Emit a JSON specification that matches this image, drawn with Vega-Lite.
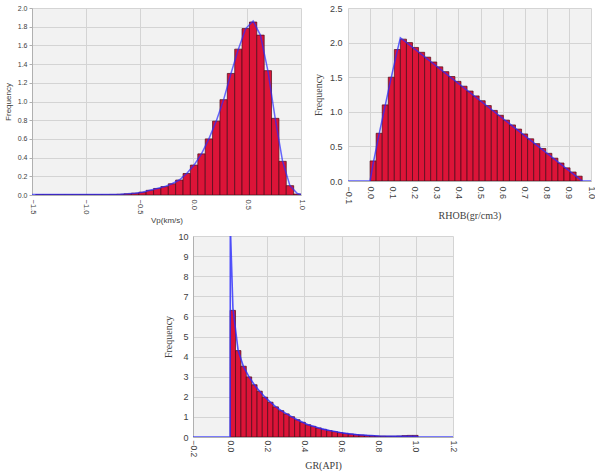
{
  "$schema": "https://vega.github.io/schema/vega-lite/v6.json",
  "padding": {"left": 4, "top": 4, "right": 0, "bottom": 0},
  "background": "white",
  "config": {
    "view": {"stroke": null},
    "axis": {
      "grid": true, "gridColor": "#d4d4d4", "gridWidth": 1,
      "domainColor": "#b0b0b0", "tickColor": "#b0b0b0", "tickSize": 3,
      "labelColor": "#404040", "titleColor": "#404040", "titleFontWeight": "normal",
      "labelFont": "Liberation Sans", "labelOverlap": false, "labelFlush": false
    }
  },
  "datasets": {
    "vpBars": [
      {"x0": -1.466, "x1": -1.398, "f": 0.005},
      {"x0": -1.398, "x1": -1.329, "f": 0.005},
      {"x0": -1.329, "x1": -1.261, "f": 0.005},
      {"x0": -1.261, "x1": -1.192, "f": 0.005},
      {"x0": -1.192, "x1": -1.124, "f": 0.005},
      {"x0": -1.124, "x1": -1.055, "f": 0.005},
      {"x0": -1.055, "x1": -0.987, "f": 0.005},
      {"x0": -0.987, "x1": -0.918, "f": 0.005},
      {"x0": -0.918, "x1": -0.850, "f": 0.005},
      {"x0": -0.850, "x1": -0.781, "f": 0.005},
      {"x0": -0.781, "x1": -0.713, "f": 0.006},
      {"x0": -0.713, "x1": -0.644, "f": 0.008},
      {"x0": -0.644, "x1": -0.576, "f": 0.013},
      {"x0": -0.576, "x1": -0.507, "f": 0.02},
      {"x0": -0.507, "x1": -0.439, "f": 0.03},
      {"x0": -0.439, "x1": -0.370, "f": 0.05},
      {"x0": -0.370, "x1": -0.302, "f": 0.07},
      {"x0": -0.302, "x1": -0.233, "f": 0.09},
      {"x0": -0.233, "x1": -0.165, "f": 0.12},
      {"x0": -0.165, "x1": -0.096, "f": 0.16},
      {"x0": -0.096, "x1": -0.028, "f": 0.23},
      {"x0": -0.028, "x1": 0.041, "f": 0.32},
      {"x0": 0.041, "x1": 0.110, "f": 0.44},
      {"x0": 0.110, "x1": 0.178, "f": 0.60},
      {"x0": 0.178, "x1": 0.247, "f": 0.79},
      {"x0": 0.247, "x1": 0.315, "f": 1.02},
      {"x0": 0.315, "x1": 0.384, "f": 1.30},
      {"x0": 0.384, "x1": 0.452, "f": 1.56},
      {"x0": 0.452, "x1": 0.521, "f": 1.78},
      {"x0": 0.521, "x1": 0.589, "f": 1.85},
      {"x0": 0.589, "x1": 0.658, "f": 1.71},
      {"x0": 0.658, "x1": 0.726, "f": 1.33},
      {"x0": 0.726, "x1": 0.795, "f": 0.82},
      {"x0": 0.795, "x1": 0.863, "f": 0.36},
      {"x0": 0.863, "x1": 0.932, "f": 0.10},
      {"x0": 0.932, "x1": 1.000, "f": 0.01}
    ],
    "vpLine": [
      {"x0": -1.5, "f": 0.005}, {"x0": -0.747, "f": 0.006}, {"x0": -0.678, "f": 0.008},
      {"x0": -0.61, "f": 0.013}, {"x0": -0.541, "f": 0.02}, {"x0": -0.473, "f": 0.03},
      {"x0": -0.404, "f": 0.05}, {"x0": -0.336, "f": 0.07}, {"x0": -0.267, "f": 0.09},
      {"x0": -0.199, "f": 0.12}, {"x0": -0.131, "f": 0.16}, {"x0": -0.062, "f": 0.23},
      {"x0": 0.006, "f": 0.32}, {"x0": 0.075, "f": 0.44}, {"x0": 0.144, "f": 0.60},
      {"x0": 0.212, "f": 0.79}, {"x0": 0.281, "f": 1.02}, {"x0": 0.349, "f": 1.30},
      {"x0": 0.418, "f": 1.56}, {"x0": 0.486, "f": 1.78}, {"x0": 0.555, "f": 1.86},
      {"x0": 0.623, "f": 1.71}, {"x0": 0.692, "f": 1.33}, {"x0": 0.760, "f": 0.82},
      {"x0": 0.829, "f": 0.36}, {"x0": 0.897, "f": 0.10}, {"x0": 0.966, "f": 0.015},
      {"x0": 1.0, "f": 0.005}
    ],
    "rhobBars": [
      {"x0": 0.0000, "x1": 0.0274, "f": 0.29},
      {"x0": 0.0274, "x1": 0.0549, "f": 0.69},
      {"x0": 0.0549, "x1": 0.0823, "f": 1.10},
      {"x0": 0.0823, "x1": 0.1097, "f": 1.50},
      {"x0": 0.1097, "x1": 0.1371, "f": 1.90},
      {"x0": 0.1371, "x1": 0.1646, "f": 2.05},
      {"x0": 0.1646, "x1": 0.1920, "f": 2.00},
      {"x0": 0.1920, "x1": 0.2194, "f": 1.93},
      {"x0": 0.2194, "x1": 0.2469, "f": 1.86},
      {"x0": 0.2469, "x1": 0.2743, "f": 1.79},
      {"x0": 0.2743, "x1": 0.3017, "f": 1.72},
      {"x0": 0.3017, "x1": 0.3291, "f": 1.65},
      {"x0": 0.3291, "x1": 0.3566, "f": 1.58},
      {"x0": 0.3566, "x1": 0.3840, "f": 1.51},
      {"x0": 0.3840, "x1": 0.4114, "f": 1.44},
      {"x0": 0.4114, "x1": 0.4389, "f": 1.37},
      {"x0": 0.4389, "x1": 0.4663, "f": 1.30},
      {"x0": 0.4663, "x1": 0.4937, "f": 1.23},
      {"x0": 0.4937, "x1": 0.5211, "f": 1.16},
      {"x0": 0.5211, "x1": 0.5486, "f": 1.09},
      {"x0": 0.5486, "x1": 0.5760, "f": 1.02},
      {"x0": 0.5760, "x1": 0.6034, "f": 0.95},
      {"x0": 0.6034, "x1": 0.6309, "f": 0.88},
      {"x0": 0.6309, "x1": 0.6583, "f": 0.81},
      {"x0": 0.6583, "x1": 0.6857, "f": 0.75},
      {"x0": 0.6857, "x1": 0.7131, "f": 0.68},
      {"x0": 0.7131, "x1": 0.7406, "f": 0.61},
      {"x0": 0.7406, "x1": 0.7680, "f": 0.54},
      {"x0": 0.7680, "x1": 0.7954, "f": 0.47},
      {"x0": 0.7954, "x1": 0.8229, "f": 0.40},
      {"x0": 0.8229, "x1": 0.8503, "f": 0.33},
      {"x0": 0.8503, "x1": 0.8777, "f": 0.26},
      {"x0": 0.8777, "x1": 0.9051, "f": 0.19},
      {"x0": 0.9051, "x1": 0.9326, "f": 0.13},
      {"x0": 0.9326, "x1": 0.9600, "f": 0.07}
    ],
    "rhobLine": [
      {"x0": -0.1, "f": 0}, {"x0": 0.0, "f": 0}, {"x0": 0.0137, "f": 0.25},
      {"x0": 0.041, "f": 0.68}, {"x0": 0.069, "f": 1.1}, {"x0": 0.096, "f": 1.5},
      {"x0": 0.123, "f": 1.88}, {"x0": 0.137, "f": 2.07}, {"x0": 0.96, "f": 0},
      {"x0": 1.0, "f": 0}
    ],
    "grBars": [
      {"x0": 0.000, "x1": 0.029, "f": 6.3},
      {"x0": 0.029, "x1": 0.058, "f": 4.3},
      {"x0": 0.058, "x1": 0.087, "f": 3.52},
      {"x0": 0.087, "x1": 0.116, "f": 2.99},
      {"x0": 0.116, "x1": 0.145, "f": 2.6},
      {"x0": 0.145, "x1": 0.173, "f": 2.28},
      {"x0": 0.173, "x1": 0.202, "f": 1.98},
      {"x0": 0.202, "x1": 0.231, "f": 1.73},
      {"x0": 0.231, "x1": 0.260, "f": 1.5},
      {"x0": 0.260, "x1": 0.289, "f": 1.31},
      {"x0": 0.289, "x1": 0.318, "f": 1.15},
      {"x0": 0.318, "x1": 0.347, "f": 1.01},
      {"x0": 0.347, "x1": 0.376, "f": 0.86},
      {"x0": 0.376, "x1": 0.405, "f": 0.73},
      {"x0": 0.405, "x1": 0.434, "f": 0.61},
      {"x0": 0.434, "x1": 0.462, "f": 0.53},
      {"x0": 0.462, "x1": 0.491, "f": 0.45},
      {"x0": 0.491, "x1": 0.520, "f": 0.38},
      {"x0": 0.520, "x1": 0.549, "f": 0.32},
      {"x0": 0.549, "x1": 0.578, "f": 0.27},
      {"x0": 0.578, "x1": 0.607, "f": 0.22},
      {"x0": 0.607, "x1": 0.636, "f": 0.18},
      {"x0": 0.636, "x1": 0.665, "f": 0.15},
      {"x0": 0.665, "x1": 0.694, "f": 0.12},
      {"x0": 0.694, "x1": 0.723, "f": 0.10},
      {"x0": 0.723, "x1": 0.751, "f": 0.08},
      {"x0": 0.751, "x1": 0.780, "f": 0.065},
      {"x0": 0.780, "x1": 0.809, "f": 0.05},
      {"x0": 0.809, "x1": 0.838, "f": 0.045},
      {"x0": 0.838, "x1": 0.867, "f": 0.04},
      {"x0": 0.867, "x1": 0.896, "f": 0.04},
      {"x0": 0.896, "x1": 0.925, "f": 0.05},
      {"x0": 0.925, "x1": 0.954, "f": 0.07},
      {"x0": 0.954, "x1": 0.983, "f": 0.08},
      {"x0": 0.983, "x1": 1.012, "f": 0.08}
    ],
    "grLine": [
      {"o": 1, "x0": -0.2, "f": 0}, {"o": 2, "x0": 0.0, "f": 0}, {"o": 3, "x0": 0.001, "f": 10.5},
      {"o": 4, "x0": 0.015, "f": 6.4}, {"o": 5, "x0": 0.043, "f": 4.3}, {"o": 6, "x0": 0.072, "f": 3.5},
      {"o": 7, "x0": 0.101, "f": 3.0}, {"o": 8, "x0": 0.13, "f": 2.6}, {"o": 9, "x0": 0.159, "f": 2.28},
      {"o": 10, "x0": 0.188, "f": 1.98}, {"o": 11, "x0": 0.217, "f": 1.73}, {"o": 12, "x0": 0.246, "f": 1.5},
      {"o": 13, "x0": 0.275, "f": 1.31}, {"o": 14, "x0": 0.304, "f": 1.15}, {"o": 15, "x0": 0.333, "f": 1.0},
      {"o": 16, "x0": 0.361, "f": 0.86}, {"o": 17, "x0": 0.39, "f": 0.73}, {"o": 18, "x0": 0.419, "f": 0.61},
      {"o": 19, "x0": 0.448, "f": 0.53}, {"o": 20, "x0": 0.477, "f": 0.45}, {"o": 21, "x0": 0.506, "f": 0.38},
      {"o": 22, "x0": 0.535, "f": 0.32}, {"o": 23, "x0": 0.564, "f": 0.27}, {"o": 24, "x0": 0.593, "f": 0.22},
      {"o": 25, "x0": 0.622, "f": 0.18}, {"o": 26, "x0": 0.651, "f": 0.15}, {"o": 27, "x0": 0.68, "f": 0.12},
      {"o": 28, "x0": 0.709, "f": 0.1}, {"o": 29, "x0": 0.738, "f": 0.08}, {"o": 30, "x0": 0.8, "f": 0.05},
      {"o": 31, "x0": 0.9, "f": 0.04}, {"o": 32, "x0": 1.0, "f": 0.03}, {"o": 33, "x0": 1.012, "f": 0},
      {"o": 34, "x0": 1.2, "f": 0}
    ],
    "spacer": [{"t": ""}]
  },
  "vconcat": [
    {
      "hconcat": [
        {
          "width": 269, "height": 187,
          "view": {"fill": "#f2f2f2", "stroke": null},
          "encoding": {
            "x": {"field": "x0", "type": "quantitative",
              "scale": {"domain": [-1.5, 1.0], "nice": false, "zero": false},
              "axis": {"values": [-1.5, -1.0, -0.5, 0.0, 0.5, 1.0], "format": ".1f", "labelAngle": 90,
                "labelOverlap": false, "labelFontSize": 7.5, "title": "Vp(km/s)", "titleFontSize": 8, "titlePadding": 3,
                "titleFont": "Liberation Sans", "tickSize": 0, "labelPadding": 4}},
            "y": {"field": "f", "type": "quantitative",
              "scale": {"domain": [0, 2.0], "nice": false},
              "axis": {"values": [0, 0.2, 0.4, 0.6, 0.8, 1.0, 1.2, 1.4, 1.6, 1.8, 2.0], "format": ".1f",
                "labelOverlap": false, "labelFontSize": 7, "title": "Frequency", "titleFontSize": 8, "titlePadding": 5,
                "titleFont": "Liberation Sans"}}
          },
          "layer": [
            {
              "data": {"name": "vpBars"},
              "mark": {"type": "rect", "color": "#dc1438", "stroke": "#4a0a18", "strokeWidth": 0.7, "clip": true},
              "encoding": {"x2": {"field": "x1"}, "y2": {"datum": 0}}
            },
            {
              "data": {"name": "vpLine"},
              "mark": {"type": "line", "color": "#2b2bff", "strokeWidth": 1.5, "opacity": 0.7, "clip": true},
              "encoding": {}
            }
          ]
        },
        {
          "width": 243, "height": 173,
          "view": {"fill": "#f2f2f2", "stroke": null},
          "encoding": {
            "x": {"field": "x0", "type": "quantitative",
              "scale": {"domain": [-0.1, 1.0], "nice": false, "zero": false},
              "axis": {"values": [-0.1, 0.0, 0.1, 0.2, 0.3, 0.4, 0.5, 0.6, 0.7, 0.8, 0.9, 1.0], "format": ".1f", "labelAngle": 90,
                "labelOverlap": false, "labelFontSize": 9, "title": "RHOB(gr/cm3)", "titleFontSize": 10, "titlePadding": 7,
                "titleFont": "Liberation Serif", "tickSize": 0, "labelPadding": 5}},
            "y": {"field": "f", "type": "quantitative",
              "scale": {"domain": [0, 2.5], "nice": false},
              "axis": {"values": [0, 0.5, 1.0, 1.5, 2.0, 2.5], "format": ".1f",
                "labelOverlap": false, "labelFontSize": 9, "title": "Frequency", "titleFontSize": 10, "titlePadding": 6,
                "titleFont": "Liberation Serif", "tickSize": 0, "domain": false, "labelPadding": 6}}
          },
          "layer": [
            {
              "data": {"name": "rhobBars"},
              "mark": {"type": "rect", "color": "#dc1438", "stroke": "#4a0a18", "strokeWidth": 0.7, "clip": true},
              "encoding": {"x2": {"field": "x1"}, "y2": {"datum": 0}}
            },
            {
              "data": {"name": "rhobLine"},
              "mark": {"type": "line", "color": "#2b2bff", "strokeWidth": 1.5, "opacity": 0.75, "clip": true},
              "encoding": {}
            }
          ]
        }
      ],
      "spacing": 8
    },
    {
      "hconcat": [
        {
          "width": 131, "height": 10,
          "data": {"name": "spacer"},
          "mark": {"type": "text"},
          "encoding": {"text": {"field": "t"}}
        },
        {
          "width": 260, "height": 201,
          "view": {"fill": "#f2f2f2", "stroke": null},
          "encoding": {
            "x": {"field": "x0", "type": "quantitative",
              "scale": {"domain": [-0.2, 1.2], "nice": false, "zero": false},
              "axis": {"values": [-0.2, 0.0, 0.2, 0.4, 0.6, 0.8, 1.0, 1.2], "format": ".1f", "labelAngle": 90,
                "labelOverlap": false, "labelFontSize": 8.5, "title": "GR(API)", "titleFontSize": 10, "titlePadding": 4,
                "titleFont": "Liberation Serif", "tickSize": 0, "labelPadding": 3}},
            "y": {"field": "f", "type": "quantitative",
              "scale": {"domain": [0, 10], "nice": false},
              "axis": {"values": [0, 1, 2, 3, 4, 5, 6, 7, 8, 9, 10], "format": "d",
                "labelOverlap": false, "labelFontSize": 9, "title": "Frequency", "titleFontSize": 10, "titlePadding": 4,
                "titleFont": "Liberation Serif", "tickSize": 0, "labelPadding": 5}}
          },
          "layer": [
            {
              "data": {"name": "grBars"},
              "mark": {"type": "rect", "color": "#dc1438", "stroke": "#4a0a18", "strokeWidth": 0.7, "clip": true},
              "encoding": {"x2": {"field": "x1"}, "y2": {"datum": 0}}
            },
            {
              "data": {"name": "grLine"},
              "mark": {"type": "line", "color": "#2b2bff", "strokeWidth": 1.6, "opacity": 0.8, "clip": true},
              "encoding": {"order": {"field": "o", "type": "quantitative"}}
            }
          ]
        }
      ],
      "spacing": 0
    }
  ],
  "spacing": 7
}
